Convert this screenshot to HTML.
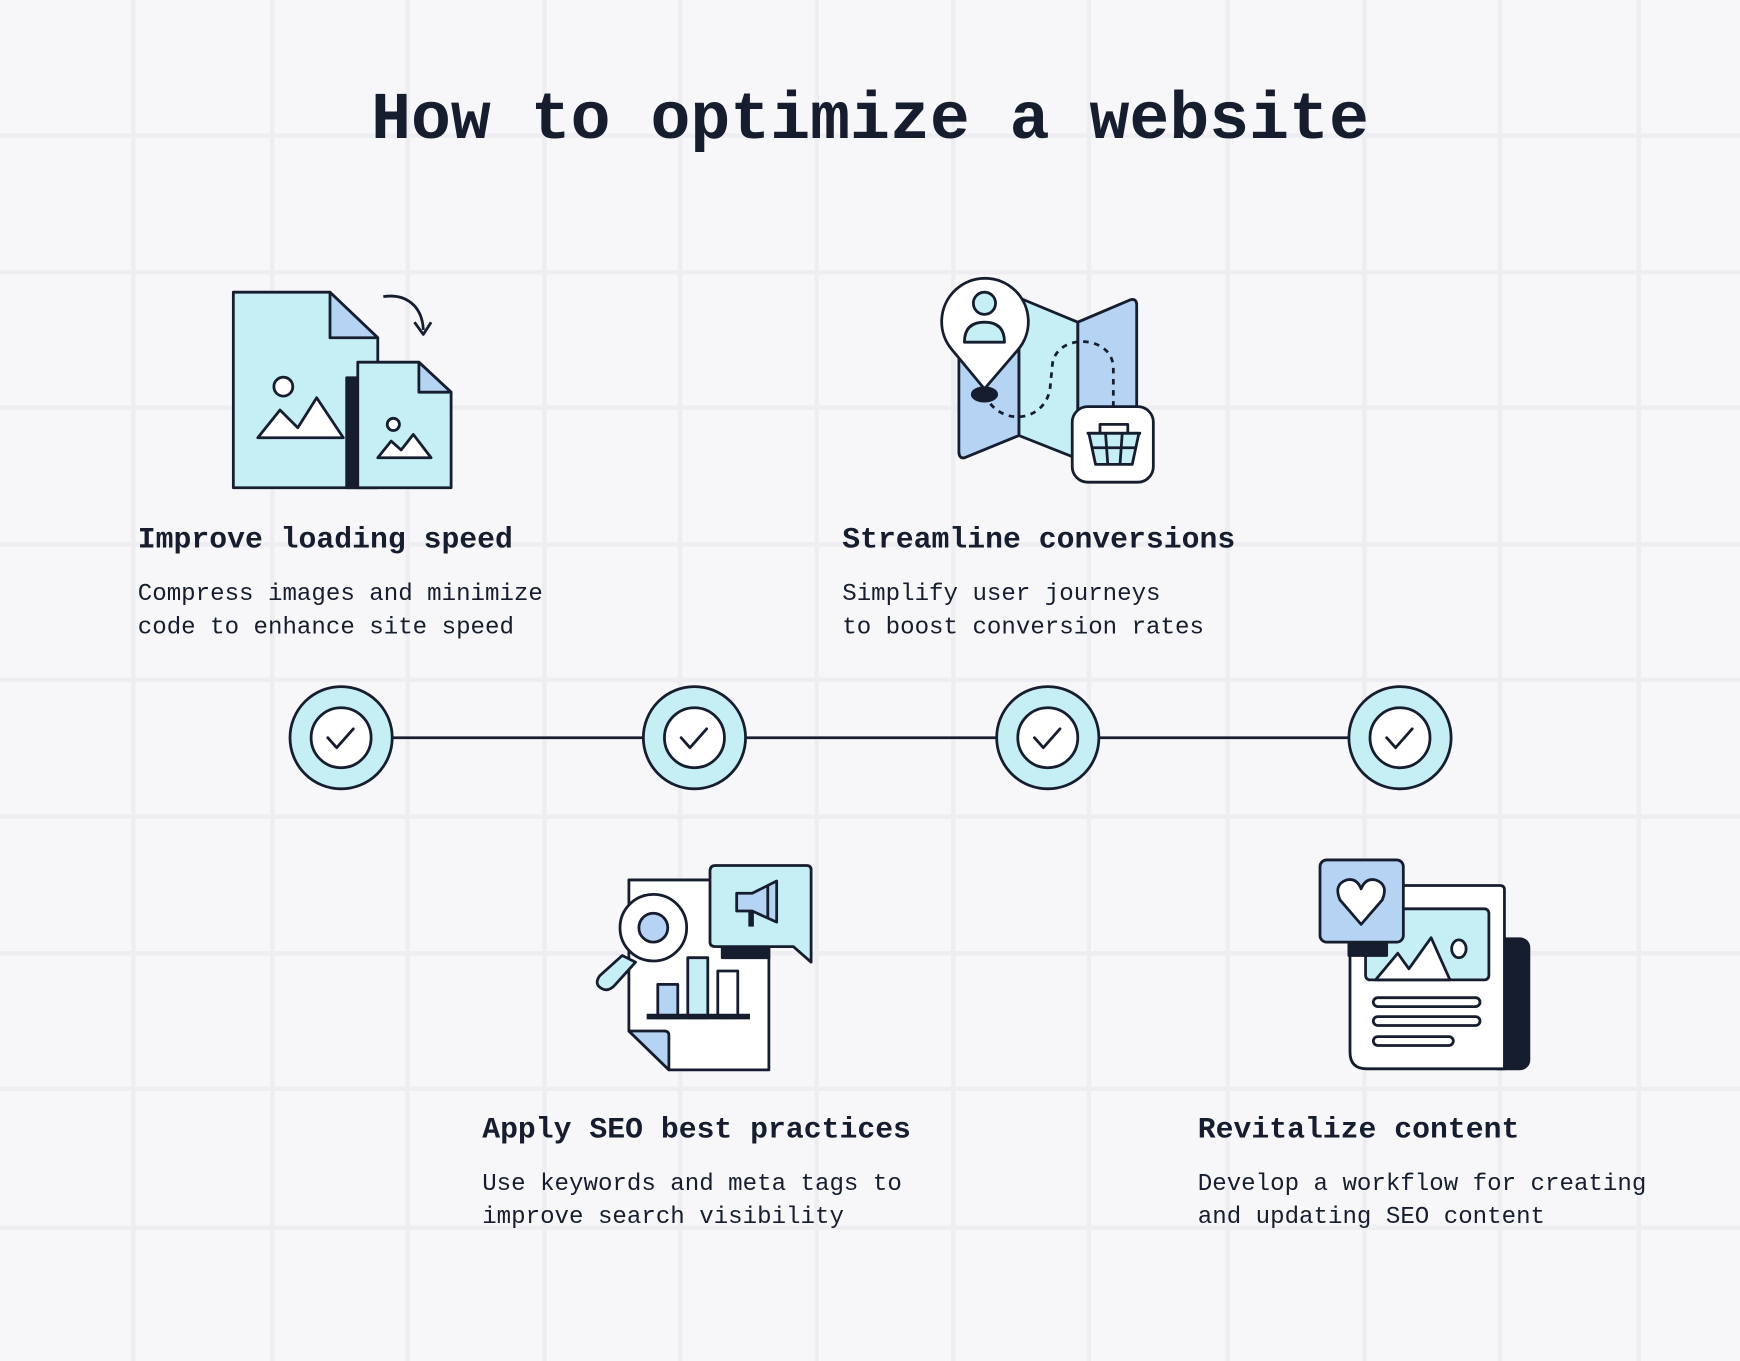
<!DOCTYPE html>
<html><head><meta charset="utf-8"><style>
html,body{margin:0;padding:0;background:#f7f7f9;}
svg{display:block;}
text{font-family:"Liberation Mono",monospace;fill:#151d2e;}
</style></head><body>
<svg width="1740" height="1361" viewBox="0 0 1566 1225" preserveAspectRatio="none" xmlns="http://www.w3.org/2000/svg">
<rect width="1566" height="1225" fill="#f7f7f9"/>
<g stroke="#eeeef2" stroke-width="4">
<line x1="120" y1="0" x2="120" y2="1225"/><line x1="245" y1="0" x2="245" y2="1225"/><line x1="367" y1="0" x2="367" y2="1225"/><line x1="490" y1="0" x2="490" y2="1225"/><line x1="612" y1="0" x2="612" y2="1225"/><line x1="735" y1="0" x2="735" y2="1225"/><line x1="858" y1="0" x2="858" y2="1225"/><line x1="980" y1="0" x2="980" y2="1225"/><line x1="1105" y1="0" x2="1105" y2="1225"/><line x1="1228" y1="0" x2="1228" y2="1225"/><line x1="1350" y1="0" x2="1350" y2="1225"/><line x1="1475" y1="0" x2="1475" y2="1225"/>
<line x1="0" y1="122" x2="1566" y2="122"/><line x1="0" y1="245" x2="1566" y2="245"/><line x1="0" y1="367" x2="1566" y2="367"/><line x1="0" y1="490" x2="1566" y2="490"/><line x1="0" y1="612" x2="1566" y2="612"/><line x1="0" y1="735" x2="1566" y2="735"/><line x1="0" y1="858" x2="1566" y2="858"/><line x1="0" y1="980" x2="1566" y2="980"/><line x1="0" y1="1105" x2="1566" y2="1105"/>
</g>

<text x="334" y="124" font-size="60" font-weight="bold" textLength="898" lengthAdjust="spacingAndGlyphs">How to optimize a website</text>

<g font-size="26.8" font-weight="bold">
<text x="124" y="493">Improve loading speed</text>
<text x="758" y="493">Streamline conversions</text>
<text x="434" y="1024">Apply SEO best practices</text>
<text x="1078" y="1024">Revitalize content</text>
</g>
<g font-size="21.7">
<text x="124" y="540">Compress images and minimize</text>
<text x="124" y="570">code to enhance site speed</text>
<text x="758" y="540">Simplify user journeys</text>
<text x="758" y="570">to boost conversion rates</text>
<text x="434" y="1071">Use keywords and meta tags to</text>
<text x="434" y="1101">improve search visibility</text>
<text x="1078" y="1071">Develop a workflow for creating</text>
<text x="1078" y="1101">and updating SEO content</text>
</g>

<line x1="307" y1="664" x2="1260" y2="664" stroke="#151d2e" stroke-width="2.5"/>
<g stroke="#151d2e" stroke-width="2.5">
<circle cx="307" cy="664" r="46" fill="#c6eef5"/><circle cx="307" cy="664" r="27" fill="#fff"/>
<circle cx="625" cy="664" r="46" fill="#c6eef5"/><circle cx="625" cy="664" r="27" fill="#fff"/>
<circle cx="943" cy="664" r="46" fill="#c6eef5"/><circle cx="943" cy="664" r="27" fill="#fff"/>
<circle cx="1260" cy="664" r="46" fill="#c6eef5"/><circle cx="1260" cy="664" r="27" fill="#fff"/>
</g>
<g fill="none" stroke="#151d2e" stroke-width="2.5" stroke-linecap="round" stroke-linejoin="round">
<path d="M295 664 l8 9 l15 -17"/><path d="M613 664 l8 9 l15 -17"/><path d="M931 664 l8 9 l15 -17"/><path d="M1248 664 l8 9 l15 -17"/>
</g>

<g stroke="#151d2e" stroke-width="2.5" stroke-linejoin="round">
<path d="M210 263 H297 L340 304 V439 H210 Z" fill="#c6eef5"/>
<path d="M297 263 V304 H340 Z" fill="#b5d4f3"/>
<rect x="312" y="340" width="12" height="99" fill="#151d2e"/>
<path d="M322 326 H377 L406 353 V439 H322 Z" fill="#c6eef5"/>
<path d="M377 326 V353 H406 Z" fill="#b5d4f3"/>
<circle cx="255" cy="348" r="8.5" fill="#fff"/>
<path d="M232 394 L252 369 L268 385 L285 358 L309 394 Z" fill="#fff"/>
<circle cx="354" cy="382" r="5.5" fill="#fff"/>
<path d="M340 412 L352 397 L361 405 L372 391 L388 412 Z" fill="#fff"/>
<path d="M345 267 C365 264 380 275 381 297" fill="none"/>
<path d="M373 290 L381 301 L388 290" fill="none"/>
</g>

<g stroke="#151d2e" stroke-width="2.5" stroke-linejoin="round">
<path d="M863 290 L917 268 L970 290 L1017 270 Q1023 268 1023 275 V392 L970 413 L917 392 L868 412 Q863 413 863 406 Z" fill="#c6eef5"/>
<path d="M863 290 L917 268 V392 L868 412 Q863 413 863 406 Z" fill="#b5d4f3"/>
<path d="M970 290 L1017 270 Q1023 268 1023 275 V392 L970 413 Z" fill="#b5d4f3"/>
<line x1="917" y1="268" x2="917" y2="392"/><line x1="970" y1="290" x2="970" y2="413"/>
<path d="M886 355 C900 385 940 380 945 350 L947 330 C948 300 1000 300 1002 330 V375" fill="none" stroke-dasharray="5 5"/>
<path d="M886 350 L857 315 A39 39 0 1 1 916 315 Z" fill="#fff"/>
<ellipse cx="886" cy="355" rx="11" ry="6" fill="#151d2e"/>
<circle cx="886" cy="273" r="10" fill="#c6eef5"/>
<path d="M868 308 Q868 290 886 290 Q904 290 904 308 Z" fill="#c6eef5"/>
<rect x="965" y="366" width="73" height="68" rx="14" fill="#fff"/>
<path d="M980 390 H1025 L1019 418 H986 Z" fill="#c6eef5"/>
<path d="M990 390 V382 H1015 V390" fill="none"/>
<line x1="978" y1="390" x2="1027" y2="390"/>
<line x1="983" y1="403" x2="1022" y2="403"/>
<line x1="995" y1="390" x2="997" y2="418"/><line x1="1010" y1="390" x2="1008" y2="418"/>
</g>

<g stroke="#151d2e" stroke-width="2.5" stroke-linejoin="round">
<path d="M566 792 H692 V963 H602 L566 928 Z" fill="#fff"/>
<path d="M566 928 H598 Q602 928 602 932 V963 Z" fill="#b5d4f3"/>
<rect x="650" y="845" width="42" height="17" fill="#151d2e"/>
<path d="M644 779 H726 Q730 779 730 783 V866 L714 852 H644 Q639 852 639 848 V784 Q639 779 644 779 Z" fill="#c6eef5"/>
<path d="M663 804 H677 L699 793 V830 L677 820 H663 Z" fill="#b5d4f3"/>
<path d="M691 797 V826" />
<path d="M676 820 V834" stroke-width="5"/>
<rect x="592" y="886" width="18" height="30" fill="#b5d4f3"/>
<rect x="619" y="862" width="18" height="54" fill="#c6eef5"/>
<rect x="646" y="874" width="18" height="42" fill="#fff"/>
<line x1="582" y1="915" x2="675" y2="915" stroke-width="5"/>
<path d="M560 860 L540 878 Q534 886 542 890 Q548 893 554 886 L572 866 Z" fill="#c6eef5"/>
<circle cx="588" cy="835" r="30" fill="#fff"/>
<circle cx="588" cy="835" r="13" fill="#b5d4f3"/>
</g>

<g stroke="#151d2e" stroke-width="2.5" stroke-linejoin="round">
<rect x="1340" y="845" width="36" height="117" rx="8" fill="#151d2e"/>
<path d="M1215 797 H1350 Q1354 797 1354 801 V962 H1230 Q1215 962 1215 947 Z" fill="#fff"/>
<rect x="1229" y="818" width="111" height="64" rx="4" fill="#c6eef5"/>
<path d="M1238 882 L1258 858 L1268 872 L1288 844 L1305 882 Z" fill="#fff"/>
<ellipse cx="1313" cy="854" rx="6.5" ry="8" fill="#fff"/>
<rect x="1214" y="843" width="34" height="17" fill="#151d2e"/>
<rect x="1188" y="774" width="75" height="74" rx="6" fill="#b5d4f3"/>
<path d="M1225 832 L1206 810 Q1200 796 1212 792 Q1221 790 1225 800 Q1229 790 1238 792 Q1250 796 1244 810 Z" fill="#fff"/>
<rect x="1236" y="898" width="96" height="8" rx="4" fill="#fff"/>
<rect x="1236" y="915" width="96" height="8" rx="4" fill="#fff"/>
<rect x="1236" y="933" width="72" height="8" rx="4" fill="#fff"/>
</g>
</svg>
</body></html>
